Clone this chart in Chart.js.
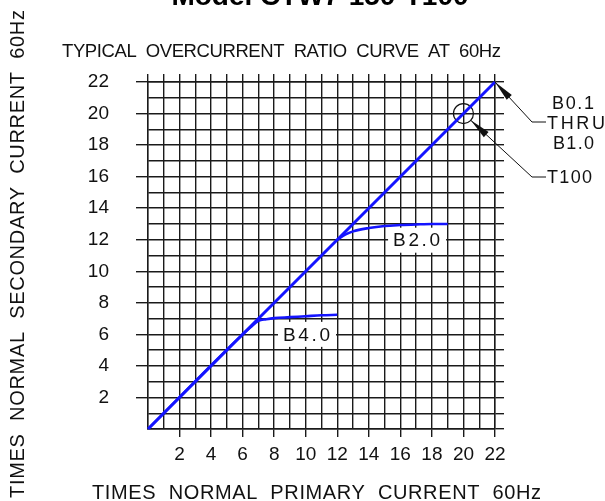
<!DOCTYPE html>
<html>
<head>
<meta charset="utf-8">
<script src="https://cdn.jsdelivr.net/npm/chart.js@4.4.1/dist/chart.umd.min.js"></script>
<style>
    html, body { margin: 0; padding: 0; background: #fff; }
    #wrap { width: 605px; height: 501px; }
</style>
</head>
<body>
<div id="wrap"><canvas id="chart-ocr" width="605" height="501"></canvas></div>
<script>
// Typical overcurrent ratio curve, CTW7-150-T100
const AXIS_MIN = 0;
const AXIS_MAX = 22;
const tickLabels = [2, 4, 6, 8, 10, 12, 14, 16, 18, 20, 22];

// B0.1 thru B1.0 - straight ratio line
const linearX = [0, 22];
const linearY = [0, 22];

// B4.0 burden
const b40X = [0, 6, 6.5, 7, 7.5, 8, 9, 10, 11, 12];
const b40Y = [0, 6, 6.45, 6.86, 6.96, 7.03, 7.09, 7.15, 7.21, 7.24];

// B2.0 burden
const b20X = [12, 12.5, 13, 14, 15, 16, 17, 18, 19];
const b20Y = [12, 12.32, 12.53, 12.74, 12.87, 12.93, 12.97, 13.0, 13.0];

// T100 marker
const markerX = [20];
const markerY = [20];

const curveNames = ['B4.0', 'B2.0'];
const curveLabelX = [10.08, 17.06];
const curveLabelY = [6.0, 11.97];

const BLUE = '#1414ff';
const GRID = '#1a1a1a';
const FONT = "'Liberation Sans', Arial, sans-serif";

const pts = (xs, ys) => xs.map((x, i) => ({ x, y: ys[i] }));
const showTick = v => tickLabels.includes(v);

function spacedText(ctx, text, left, y, width) {
    ctx.letterSpacing = '0px';
    const w0 = ctx.measureText(text).width;
    ctx.letterSpacing = ((width - w0) / (text.length - 1)) + 'px';
    ctx.textAlign = 'left';
    ctx.fillText(text, left, y);
    ctx.letterSpacing = '0px';
}

function arrowHead(ctx, tipX, tipY, fromX, fromY, len, half) {
    const a = Math.atan2(fromY - tipY, fromX - tipX);
    const bx = tipX + Math.cos(a) * len, by = tipY + Math.sin(a) * len;
    const nx = -Math.sin(a) * half, ny = Math.cos(a) * half;
    ctx.beginPath();
    ctx.moveTo(tipX, tipY);
    ctx.lineTo(bx + nx, by + ny);
    ctx.lineTo(bx - nx, by - ny);
    ctx.closePath();
    ctx.fill();
}

const drawingText = {
    id: 'drawingText',
    beforeDraw(chart) {
        const ctx = chart.ctx;
        ctx.save();
        ctx.fillStyle = '#fff';
        ctx.fillRect(0, 0, chart.width, chart.height);
        ctx.restore();
    },
    afterDatasetsDraw(chart) {
        const { ctx, scales: { x, y } } = chart;
        ctx.save();
        // curve labels in white boxes
        ctx.font = `19px ${FONT}`;
        ctx.textBaseline = 'middle';
        curveNames.forEach((name, i) => {
            const cx = x.getPixelForValue(curveLabelX[i]);
            const cy = y.getPixelForValue(curveLabelY[i]);
            ctx.fillStyle = '#fff';
            ctx.fillRect(cx - 29, cy - 12.5, 58, 25);
            ctx.fillStyle = '#111';
            spacedText(ctx, name, cx - 24, cy + 1, 47);
        });

        // leaders
        ctx.strokeStyle = '#111';
        ctx.fillStyle = '#111';
        ctx.lineWidth = 1;
        const tip1x = x.getPixelForValue(linearX[1]), tip1y = y.getPixelForValue(linearY[1]);
        ctx.beginPath();
        ctx.moveTo(tip1x, tip1y);
        ctx.lineTo(532, 122);
        ctx.lineTo(546, 122);
        ctx.stroke();
        arrowHead(ctx, tip1x, tip1y, 532, 122, 21, 3.5);

        const mx = x.getPixelForValue(markerX[0]), my = y.getPixelForValue(markerY[0]);
        const ang = Math.atan2(177 - my, 532 - mx);
        const tip2x = mx + Math.cos(ang) * 10, tip2y = my + Math.sin(ang) * 10;
        ctx.beginPath();
        ctx.moveTo(tip2x, tip2y);
        ctx.lineTo(532, 177);
        ctx.lineTo(546, 177);
        ctx.stroke();
        arrowHead(ctx, tip2x, tip2y, 532, 177, 21, 3.5);

        ctx.font = `18px ${FONT}`;
        ctx.textBaseline = 'alphabetic';
        spacedText(ctx, 'B0.1', 552, 109, 42);
        spacedText(ctx, 'THRU', 547, 129, 58);
        spacedText(ctx, 'B1.0', 553, 149, 41);
        spacedText(ctx, 'T100', 547, 183, 45);
        ctx.restore();
    },
    afterDraw(chart) {
        const ctx = chart.ctx;
        ctx.save();
        ctx.fillStyle = '#000';
        ctx.textBaseline = 'alphabetic';

        ctx.font = `bold 28px ${FONT}`;
        ctx.textAlign = 'center';
        ctx.fillText('Model CTW7-150-T100', 320, 5);

        ctx.fillStyle = '#111';
        ctx.font = `18.5px ${FONT}`;
        spacedText(ctx, 'TYPICAL  OVERCURRENT  RATIO  CURVE  AT  60Hz', 62, 57, 439);

        ctx.font = `20px ${FONT}`;
        spacedText(ctx, 'TIMES  NORMAL  PRIMARY  CURRENT  60Hz', 92, 499, 449);

        ctx.translate(24, 498);
        ctx.rotate(-Math.PI / 2);
        spacedText(ctx, 'TIMES  NORMAL  SECONDARY  CURRENT  60Hz', 0, 0, 488);
        ctx.restore();
    },
};

const tickColor = c => (showTick(c.tick.value) ? GRID : 'rgba(0,0,0,0)');

new Chart(document.getElementById('chart-ocr').getContext('2d'), {
    type: 'scatter',
    data: {
        datasets: [
            {
                label: 'B0.1 THRU B1.0',
                data: pts(linearX, linearY),
                showLine: true,
                borderColor: BLUE,
                borderWidth: 3,
                pointRadius: 0,
                clip: false,
            },
            {
                label: 'B4.0',
                data: pts(b40X, b40Y),
                showLine: true,
                borderColor: BLUE,
                borderWidth: 2.6,
                pointRadius: 0,
                cubicInterpolationMode: 'monotone',
            },
            {
                label: 'B2.0',
                data: pts(b20X, b20Y),
                showLine: true,
                borderColor: BLUE,
                borderWidth: 2.6,
                pointRadius: 0,
                cubicInterpolationMode: 'monotone',
            },
            {
                label: 'T100',
                data: pts(markerX, markerY),
                showLine: false,
                pointRadius: 10,
                pointBorderWidth: 1.2,
                pointBorderColor: '#111',
                pointBackgroundColor: 'rgba(0,0,0,0)',
            },
        ],
    },
    options: {
        responsive: false,
        animation: false,
        events: [],
        layout: { padding: 0 },
        scales: {
            x: {
                type: 'linear',
                position: 'bottom',
                min: AXIS_MIN,
                max: AXIS_MAX,
                grid: { color: GRID, lineWidth: 1.4, tickLength: 8, tickColor, tickWidth: 1.4 },
                border: { color: GRID, width: 1.4 },
                ticks: {
                    stepSize: 1,
                    autoSkip: false,
                    maxRotation: 0,
                    padding: 6,
                    color: '#111',
                    font: { family: FONT, size: 19 },
                    callback: v => (showTick(v) ? String(v) : ''),
                },
                afterFit: s => { s.height = 72; },
            },
            x2: {
                type: 'linear',
                position: 'top',
                min: AXIS_MIN,
                max: AXIS_MAX,
                grid: { drawOnChartArea: false, color: GRID, lineWidth: 1.4, tickLength: 8 },
                border: { color: GRID, width: 1.4 },
                ticks: { stepSize: 1, autoSkip: false, display: false },
                afterFit: s => { s.height = 82; },
            },
            y: {
                type: 'linear',
                position: 'left',
                min: AXIS_MIN,
                max: AXIS_MAX,
                grid: { color: GRID, lineWidth: 1.4, tickLength: 12, tickColor, tickWidth: 1.4 },
                border: { color: GRID, width: 1.4 },
                ticks: {
                    stepSize: 1,
                    autoSkip: false,
                    padding: 27,
                    color: '#111',
                    font: { family: FONT, size: 19 },
                    callback: v => (showTick(v) ? String(v) : ''),
                },
                afterFit: s => { s.width = 148; },
            },
            y2: {
                type: 'linear',
                position: 'right',
                min: AXIS_MIN,
                max: AXIS_MAX,
                grid: { drawOnChartArea: false, color: GRID, lineWidth: 1.4, tickLength: 9 },
                border: { color: GRID, width: 1.4 },
                ticks: { stepSize: 1, autoSkip: false, display: false },
                afterFit: s => { s.width = 110; },
            },
        },
        plugins: {
            legend: { display: false },
            tooltip: { enabled: false },
            title: { display: false },
        },
    },
    plugins: [drawingText],
});
</script>
</body>
</html>
